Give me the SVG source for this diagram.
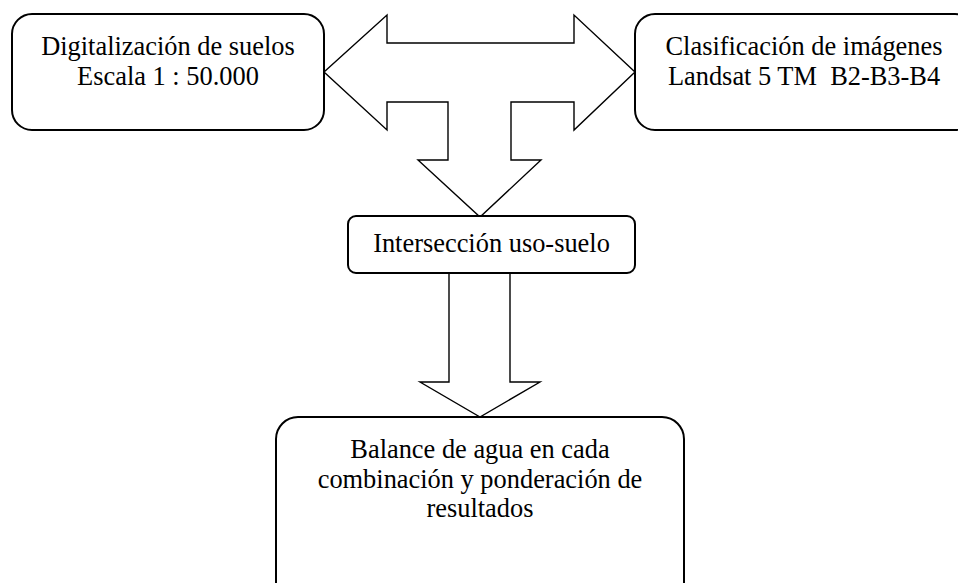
<svg xmlns="http://www.w3.org/2000/svg" width="958" height="583" viewBox="0 0 958 583">
<style>
.box{fill:#fff;stroke:#000;stroke-width:2}
.arr{fill:#fff;stroke:#000;stroke-width:1.4;stroke-linejoin:miter}
.t{font-family:"Liberation Serif","Times New Roman",serif;font-size:26.4px;fill:#000;text-anchor:middle}
</style>
<rect width="958" height="583" fill="#fff"/>
<g id="connectors">
<polygon class="arr" points="324,72 387,15 387,43 574,43 574,15 635,72 574,130 574,102 511,102 511,160 541,160 480,217 418,160 448,160 448,102 387,102 387,130"/>
<polygon class="arr" points="449,272 449,382 420,382 480,417 540,382 510,382 510,272"/>
</g>
<g id="n1">
<rect class="box" x="12" y="14" width="312" height="116" rx="20"/>
<text class="t" x="168" y="55">Digitalización de suelos</text>
<text class="t" x="168" y="85">Escala 1 : 50.000</text>
</g>
<g id="n2">
<rect class="box" x="635" y="14" width="340" height="116" rx="20"/>
<text class="t" x="804" y="55">Clasificación de imágenes</text>
<text class="t" x="804" y="85" xml:space="preserve">Landsat 5 TM  B2-B3-B4</text>
</g>
<g id="n3">
<rect class="box" x="348" y="216" width="287" height="57" rx="8"/>
<text class="t" x="491.5" y="252">Intersección uso-suelo</text>
</g>
<g id="n4">
<rect class="box" x="276" y="417" width="408" height="190" rx="22"/>
<text class="t" x="480" y="458">Balance de agua en cada</text>
<text class="t" x="480" y="487.5">combinación y ponderación de</text>
<text class="t" x="480" y="517">resultados</text>
</g>
</svg>
